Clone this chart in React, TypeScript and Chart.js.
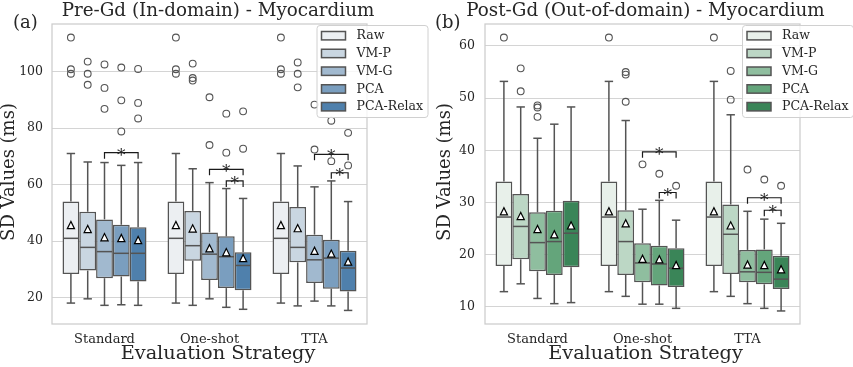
import React, { useEffect, useRef } from 'react';
import { Chart, registerables } from 'chart.js';
Chart.register(...registerables);

// ---------- shared labels ----------
const categories = ['Standard', 'One-shot', 'TTA'];
const methods = ['Raw', 'VM-P', 'VM-G', 'PCA', 'PCA-Relax'];

// ---------- (a) Pre-Gd ----------
const preColors = ['#eceff2', '#c9d6e1', '#a1b9cf', '#7a9ebf', '#4f80ac'];
const preQ1 = [[28.4, 28.4, 28.4], [29.6, 33.1, 32.5], [26.9, 26.3, 25.2], [27.5, 23.4, 23.2], [25.7, 22.6, 22.2]];
const preQ3 = [[54.0, 54.0, 54.0], [50.4, 50.7, 52.1], [47.7, 43.1, 42.3], [45.8, 41.7, 40.5], [44.9, 36.1, 36.6]];
const preMedian = [[41.0, 41.0, 41.0], [37.8, 38.4, 37.8], [36.3, 35.4, 33.4], [35.7, 34.5, 34.0], [35.7, 31.4, 30.5]];
const preLow = [[18.1, 18.1, 18.1], [19.6, 17.3, 17.1], [17.3, 19.6, 18.8], [17.5, 16.6, 17.1], [17.3, 15.9, 15.5]];
const preHigh = [[71.0, 71.0, 71.0], [68.0, 65.6, 66.6], [67.8, 60.7, 59.2], [66.8, 58.6, 61.3], [67.8, 55.1, 54.0]];
const preMean = [[45.7, 45.7, 45.7], [44.3, 44.5, 44.6], [41.4, 37.5, 36.6], [41.1, 36.1, 35.6], [40.4, 34.0, 32.8]];
const preOutliers = [
  [[112.0, 100.8, 99.2], [112.0, 100.8, 99.2], [112.0, 100.8, 99.2]],
  [[103.5, 99.2, 95.3], [102.8, 97.7, 96.8], [103.2, 99.2, 94.4]],
  [[102.5, 94.2, 86.8], [90.9, 74.0], [88.3, 72.4]],
  [[101.4, 89.8, 78.8], [85.1, 71.3], [82.6, 68.3]],
  [[100.9, 88.9, 83.4], [85.9, 72.7], [78.3, 66.8]],
];
const preTicks = [20, 40, 60, 80, 100];
const preRange = [10.7, 116.8];
// significance brackets: [category, fromMethod, toMethod, yValue]
const preBrackets = [[0, 2, 4, 71.3], [1, 2, 4, 65.4], [1, 3, 4, 61.3], [2, 2, 4, 70.7], [2, 3, 4, 64.2]];

// ---------- (b) Post-Gd ----------
const postColors = ['#e8f0ea', '#bcd7c5', '#8fbe9f', '#64a57b', '#3a8558'];
const postQ1 = [[17.8, 17.8, 17.8], [19.1, 16.1, 16.3], [16.8, 14.7, 14.7], [16.1, 14.1, 14.3], [17.6, 13.8, 13.4]];
const postQ3 = [[34.0, 34.0, 34.0], [31.6, 28.5, 29.6], [28.1, 22.2, 20.9], [28.4, 21.7, 21.0], [30.3, 21.2, 19.8]];
const postMedian = [[27.2, 27.2, 27.2], [25.4, 22.5, 23.9], [22.3, 18.4, 16.7], [22.5, 18.2, 16.6], [24.1, 17.4, 15.3]];
const postLow = [[12.9, 12.9, 12.9], [14.4, 12.0, 12.0], [11.6, 10.5, 10.6], [10.6, 10.5, 9.7], [10.8, 9.7, 9.2]];
const postHigh = [[53.2, 53.2, 53.2], [48.3, 45.7, 46.8], [42.3, 28.7, 28.3], [45.0, 30.4, 26.8], [48.3, 26.6, 26.0]];
const postMean = [[28.3, 28.3, 28.3], [27.4, 26.0, 25.6], [24.9, 19.2, 18.1], [23.9, 19.1, 18.0], [25.6, 18.0, 17.2]];
const postOutliers = [
  [[61.6], [61.6], [61.6]],
  [[55.7, 51.3], [55.0, 54.5, 49.3], [55.2, 49.7]],
  [[48.6, 48.2, 46.4], [37.3], [36.3]],
  [[], [35.5], [34.4]],
  [[], [33.2], [33.2]],
];
const postTicks = [10, 20, 30, 40, 50, 60];
const postRange = [6.7, 64.2];
const postBrackets = [[1, 2, 4, 39.7], [1, 3, 4, 31.9], [2, 2, 4, 30.9], [2, 3, 4, 28.5]];

const preTitle = 'Pre-Gd (In-domain) - Myocardium';
const postTitle = 'Post-Gd (Out-of-domain) - Myocardium';
const xTitle = 'Evaluation Strategy';
const yTitle = 'SD Values (ms)';

const FONT = '"DejaVu Serif", serif';
const TEXT = '#262626';
const EDGE = '#545454';
const GRID = '#d4d4d4';
const SPINE = '#cccccc';

type Panel = {
  colors: string[]; q1: number[][]; q3: number[][]; med: number[][]; lo: number[][]; hi: number[][];
  mean: number[][]; out: number[][][]; ticks: number[]; range: number[]; brackets: number[][];
  title: string; letter: string;
  width: number; yAxisW: number; padRight: number; tickPad: number;
  titleX: number; letterX: number; ylabelX: number; legendX: number;
};

function makePlugin(p: Panel) {
  return {
    id: 'boxExtras',
    afterDatasetsDraw(chart: any) {
      const ctx = chart.ctx as CanvasRenderingContext2D;
      const ys = chart.scales.y;
      const area = chart.chartArea;
      const line = (x1: number, y1: number, x2: number, y2: number) => {
        ctx.beginPath(); ctx.moveTo(x1, y1); ctx.lineTo(x2, y2); ctx.stroke();
      };
      ctx.save();
      // whiskers, caps, medians
      ctx.strokeStyle = EDGE;
      ctx.lineWidth = 1.5;
      for (let d = 0; d < methods.length; d++) {
        const meta = chart.getDatasetMeta(d);
        meta.data.forEach((bar: any, i: number) => {
          const x = bar.x, w = bar.width;
          const yq1 = ys.getPixelForValue(p.q1[d][i]);
          const yq3 = ys.getPixelForValue(p.q3[d][i]);
          const ylo = ys.getPixelForValue(p.lo[d][i]);
          const yhi = ys.getPixelForValue(p.hi[d][i]);
          const ymed = ys.getPixelForValue(p.med[d][i]);
          line(x, yq3, x, yhi);
          line(x, yq1, x, ylo);
          line(x - w / 4, yhi, x + w / 4, yhi);
          line(x - w / 4, ylo, x + w / 4, ylo);
          line(x - w / 2 + 0.75, ymed, x + w / 2 - 0.75, ymed);
        });
      }
      // outliers
      ctx.lineWidth = 1.1;
      for (let d = 0; d < methods.length; d++) {
        const meta = chart.getDatasetMeta(d);
        meta.data.forEach((bar: any, i: number) => {
          p.out[d][i].forEach((v) => {
            const yy = ys.getPixelForValue(v);
            ctx.beginPath(); ctx.arc(bar.x, yy, 3.4, 0, Math.PI * 2); ctx.stroke();
          });
        });
      }
      // means
      ctx.lineWidth = 1.2;
      ctx.strokeStyle = '#000';
      ctx.fillStyle = '#fff';
      for (let d = 0; d < methods.length; d++) {
        const meta = chart.getDatasetMeta(d);
        meta.data.forEach((bar: any, i: number) => {
          const x = bar.x, yy = ys.getPixelForValue(p.mean[d][i]);
          const s = 3.6;
          ctx.beginPath(); ctx.moveTo(x, yy - s); ctx.lineTo(x - s, yy + s); ctx.lineTo(x + s, yy + s); ctx.closePath();
          ctx.fill(); ctx.stroke();
        });
      }
      // brackets
      ctx.strokeStyle = '#1a1a1a';
      ctx.lineWidth = 1.2;
      ctx.fillStyle = TEXT;
      ctx.font = '17px ' + FONT;
      ctx.textAlign = 'center';
      ctx.textBaseline = 'alphabetic';
      p.brackets.forEach(([c, a, b, v]) => {
        const xa = chart.getDatasetMeta(a).data[c].x;
        const xb = chart.getDatasetMeta(b).data[c].x;
        const yy = ys.getPixelForValue(v);
        ctx.beginPath(); ctx.moveTo(xa, yy + 6); ctx.lineTo(xa, yy); ctx.lineTo(xb, yy); ctx.lineTo(xb, yy + 6); ctx.stroke();
        ctx.fillText('*', (xa + xb) / 2, yy + 8);
      });
      // frame
      ctx.strokeStyle = SPINE;
      ctx.lineWidth = 1.25;
      ctx.strokeRect(area.left, area.top, area.right - area.left, area.bottom - area.top);
      // legend
      const lx = p.legendX, ly = 25, lw = 111, lh = 92;
      ctx.beginPath();
      (ctx as any).roundRect(lx + 0.5, ly + 0.5, lw, lh, 3);
      ctx.fillStyle = 'rgba(255,255,255,0.8)';
      ctx.fill();
      ctx.strokeStyle = '#d0d0d0';
      ctx.lineWidth = 1;
      ctx.stroke();
      ctx.font = '12.5px ' + FONT;
      ctx.textAlign = 'left';
      ctx.textBaseline = 'middle';
      methods.forEach((m, k) => {
        const cy = ly + 10.7 + k * 17.75;
        ctx.fillStyle = p.colors[k];
        ctx.fillRect(lx + 5, cy - 4.2, 24, 8.4);
        ctx.strokeStyle = EDGE;
        ctx.lineWidth = 1.5;
        ctx.strokeRect(lx + 5, cy - 4.2, 24, 8.4);
        ctx.fillStyle = TEXT;
        ctx.fillText(m, lx + 40, cy + 0.5);
      });
      ctx.restore();
    },
    afterDraw(chart: any) {
      const ctx = chart.ctx as CanvasRenderingContext2D;
      const area = chart.chartArea;
      ctx.save();
      ctx.fillStyle = TEXT;
      ctx.textAlign = 'center';
      ctx.textBaseline = 'alphabetic';
      ctx.font = '18.3px ' + FONT;
      ctx.fillText(p.title, p.titleX, 16);
      ctx.textAlign = 'left';
      ctx.font = '18px ' + FONT;
      ctx.fillText(p.letter, p.letterX, 27.5);
      ctx.textAlign = 'center';
      ctx.font = '19.3px ' + FONT;
      ctx.fillText(xTitle, p.titleX, 359);
      ctx.font = '18px ' + FONT;
      ctx.translate(p.ylabelX, (area.top + area.bottom) / 2 - 2);
      ctx.rotate(-Math.PI / 2);
      ctx.textBaseline = 'middle';
      ctx.fillText(yTitle, 0, 0);
      ctx.restore();
    },
  };
}

function makeConfig(p: Panel): any {
  return {
    type: 'bar',
    data: {
      labels: categories,
      datasets: methods.map((m, d) => ({
        label: m,
        data: categories.map((_, i) => [p.q1[d][i], p.q3[d][i]]),
        backgroundColor: p.colors[d],
        borderColor: EDGE,
        borderWidth: 1.5,
        borderSkipped: false,
        categoryPercentage: 0.8,
        barPercentage: 1.0,
      })),
    },
    options: {
      responsive: false,
      animation: false,
      devicePixelRatio: 1,
      layout: { padding: { left: 0, right: p.padRight, top: 24, bottom: 0 } },
      plugins: { legend: { display: false }, tooltip: { enabled: false }, title: { display: false } },
      scales: {
        x: {
          type: 'category',
          grid: { display: false, drawTicks: false },
          border: { display: false },
          ticks: { color: TEXT, font: { family: FONT, size: 13 }, padding: 8, maxRotation: 0 },
          afterFit: (s: any) => { s.height = 43; },
        },
        y: {
          type: 'linear',
          min: p.range[0],
          max: p.range[1],
          grid: { color: GRID, lineWidth: 1, drawTicks: false },
          border: { display: false },
          ticks: { color: TEXT, font: { family: FONT, size: 12.5 }, padding: p.tickPad },
          afterBuildTicks: (s: any) => { s.ticks = p.ticks.map((v) => ({ value: v })); },
          afterFit: (s: any) => { s.width = p.yAxisW; },
        },
      },
    },
    plugins: [makePlugin(p)],
  };
}

const prePanel: Panel = {
  colors: preColors, q1: preQ1, q3: preQ3, med: preMedian, lo: preLow, hi: preHigh, mean: preMean,
  out: preOutliers, ticks: preTicks, range: preRange, brackets: preBrackets, title: preTitle, letter: '(a)',
  width: 430, yAxisW: 52, padRight: 63, tickPad: 9, titleX: 218, letterX: 13, ylabelX: 9, legendX: 316.5,
};
const postPanel: Panel = {
  colors: postColors, q1: postQ1, q3: postQ3, med: postMedian, lo: postLow, hi: postHigh, mean: postMean,
  out: postOutliers, ticks: postTicks, range: postRange, brackets: postBrackets, title: postTitle, letter: '(b)',
  width: 427, yAxisW: 59, padRight: 53, tickPad: 10, titleX: 219.5, letterX: 9, ylabelX: 19, legendX: 316,
};

function PanelChart({ panel, left }: { panel: Panel; left: number }) {
  const ref = useRef<HTMLCanvasElement>(null);
  useEffect(() => {
    if (!ref.current) return;
    const chart = new Chart(ref.current, makeConfig(panel));
    return () => chart.destroy();
  }, [panel]);
  return (
    <canvas
      ref={ref}
      width={panel.width}
      height={367}
      style={{ position: 'absolute', left, top: 0, width: panel.width, height: 367 }}
    />
  );
}

export default function App() {
  return (
    <div style={{ position: 'absolute', left: 0, top: 0, width: 853, height: 367, background: '#fff' }}>
      <PanelChart panel={prePanel} left={0} />
      <PanelChart panel={postPanel} left={426} />
    </div>
  );
}
